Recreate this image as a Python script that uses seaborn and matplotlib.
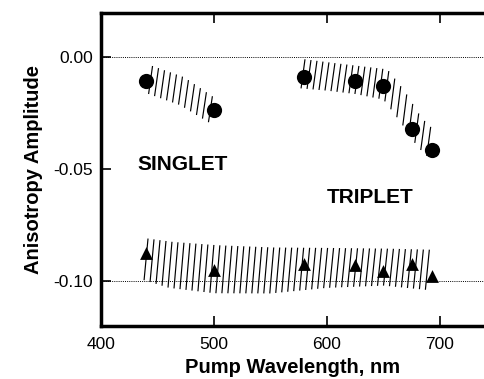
import numpy as np
import pandas as pd
import seaborn as sns
import matplotlib.pyplot as plt
from matplotlib.collections import LineCollection

# measured points
singlet_wl = [440, 500]
singlet_amp = [-0.0105, -0.0237]
triplet_wl = [580, 625, 650, 675, 693]
triplet_amp = [-0.0089, -0.0107, -0.0130, -0.0320, -0.0415]
tri_wl = [440, 500, 580, 625, 650, 675, 693]
tri_amp = [-0.0875, -0.0950, -0.0925, -0.0928, -0.0955, -0.0925, -0.0975]

# hatched uncertainty bands
s_band_x = [442, 470, 498]
s_band_hi = [-0.0040, -0.0090, -0.0185]
s_band_lo = [-0.0165, -0.0215, -0.0300]
t_band_x = [577, 600, 625, 650, 665, 680, 692]
t_band_hi = [-0.0010, -0.0025, -0.0040, -0.0055, -0.0150, -0.0270, -0.0330]
t_band_lo = [-0.0140, -0.0150, -0.0165, -0.0190, -0.0290, -0.0400, -0.0460]
a_band_x = [438, 460, 500, 550, 600, 650, 690]
a_band_hi = [-0.0810, -0.0825, -0.0840, -0.0850, -0.0852, -0.0855, -0.0860]
a_band_lo = [-0.0996, -0.1030, -0.1054, -0.1055, -0.1030, -0.1020, -0.1040]

sns.set_style("ticks", {'text.color': 'black', 'axes.labelcolor': 'black',
                        'xtick.color': 'black', 'ytick.color': 'black',
                        'axes.edgecolor': 'black'})
plt.rcParams['font.family'] = ['Liberation Sans', 'DejaVu Sans']

fig = plt.figure(figsize=(4.84, 3.79), dpi=100)
ax = fig.add_axes([0.209, 0.140, 0.791, 0.826])


def hatch_band(ax, bx, hi, lo, step=5.3, slant=3.5):
    xs = np.arange(bx[0], bx[-1] + 0.01, step)
    h = np.interp(xs, bx, hi)
    l = np.interp(xs, bx, lo)
    segs = [[(x, b), (x + slant, t)] for x, b, t in zip(xs, l, h)]
    ax.add_collection(LineCollection(segs, colors='black', linewidths=0.85, zorder=2))


hatch_band(ax, s_band_x, s_band_hi, s_band_lo)
hatch_band(ax, t_band_x, t_band_hi, t_band_lo)
hatch_band(ax, a_band_x, a_band_hi, a_band_lo)

for yv in [0.0, -0.10]:
    ax.axhline(yv, color='black', linestyle=(0, (1, 1.2)), linewidth=0.7, zorder=1)

sns.scatterplot(x=singlet_wl, y=singlet_amp, ax=ax, color='black', marker='o', s=120,
                edgecolor='black', linewidth=0, zorder=3)
sns.scatterplot(x=triplet_wl, y=triplet_amp, ax=ax, color='black', marker='o', s=120,
                edgecolor='black', linewidth=0, zorder=3)
sns.scatterplot(x=tri_wl, y=tri_amp, ax=ax, color='black', marker='^', s=85,
                edgecolor='black', linewidth=0, zorder=3)

ax.text(472, -0.048, 'SINGLET', fontsize=15, fontweight='bold', ha='center', va='center',
        color='black')
ax.text(638, -0.0625, 'TRIPLET', fontsize=15, fontweight='bold', ha='center', va='center',
        color='black')

ax.set_xlim(400, 739)
ax.set_ylim(-0.12, 0.0197)
ax.set_xticks([400, 500, 600, 700])
ax.set_yticks([0.0, -0.05, -0.10])
ax.set_yticklabels(['0.00', '-0.05', '-0.10'])
ax.tick_params(direction='in', length=7, width=1.2, labelsize=12.5, top=True, pad=8,
               colors='black')
ax.tick_params(axis='y', pad=6)
for side in ['left', 'bottom', 'top']:
    ax.spines[side].set_linewidth(2.5)
    ax.spines[side].set_color('black')
ax.spines['right'].set_visible(False)

ax.set_xlabel('Pump Wavelength, nm', fontsize=14.5, fontweight='bold', labelpad=4,
              color='black')
ax.set_ylabel('Anisotropy Amplitude', fontsize=14.5, fontweight='bold', labelpad=7,
              color='black')

fig.savefig('out.png', dpi=100)
